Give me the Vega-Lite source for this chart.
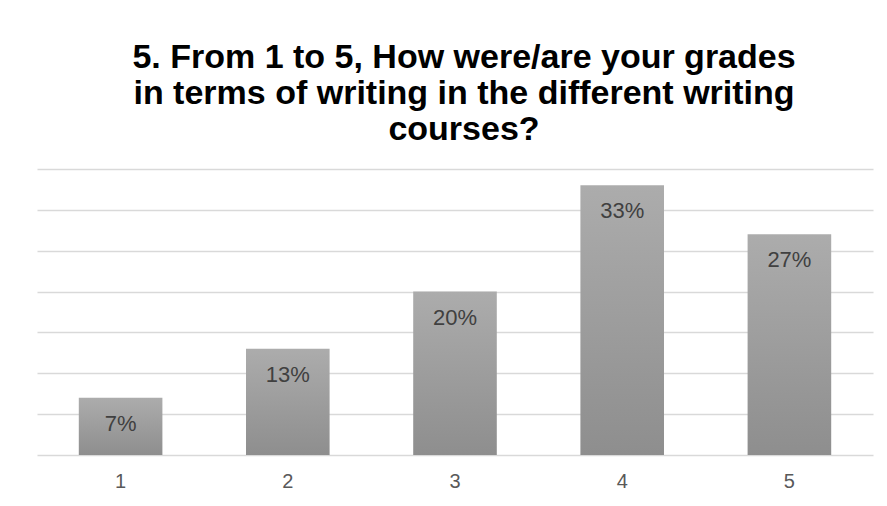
{
  "$schema": "https://vega.github.io/schema/vega-lite/v6.json",
  "autosize": "none",
  "width": 836,
  "height": 286,
  "padding": {"left": 37, "top": 169, "right": 14, "bottom": 51},
  "background": "white",
  "config": {
    "view": {"stroke": null},
    "font": "Liberation Sans"
  },
  "title": {
    "text": ["5. From 1 to 5, How were/are your grades", "in terms of writing in the different writing", "courses?"],
    "font": "Liberation Sans",
    "fontSize": 34,
    "fontWeight": "bold",
    "color": "#000000",
    "lineHeight": 36,
    "anchor": "middle",
    "dx": 9,
    "offset": 22
  },
  "data": {
    "values": [
      {"grade": "1", "share": 0.07},
      {"grade": "2", "share": 0.13},
      {"grade": "3", "share": 0.2},
      {"grade": "4", "share": 0.33},
      {"grade": "5", "share": 0.27}
    ]
  },
  "encoding": {
    "x": {
      "field": "grade",
      "type": "nominal",
      "sort": null,
      "scale": {"paddingInner": 0.5, "paddingOuter": 0.25},
      "axis": {
        "title": null,
        "labelAngle": 0,
        "domain": false,
        "ticks": false,
        "labelPadding": 16,
        "labelFontSize": 20,
        "labelColor": "#595959",
        "labelFont": "Liberation Sans"
      }
    },
    "y": {
      "field": "share",
      "type": "quantitative",
      "scale": {"domain": [0, 0.35], "nice": false},
      "axis": {
        "title": null,
        "values": [0, 0.05, 0.1, 0.15, 0.2, 0.25, 0.3, 0.35],
        "labels": false,
        "ticks": false,
        "domain": false,
        "grid": true,
        "gridColor": "#d9d9d9",
        "gridWidth": 1.5
      }
    }
  },
  "layer": [
    {
      "mark": {
        "type": "bar",
        "fill": {
          "gradient": "linear",
          "x1": 0, "y1": 0, "x2": 0, "y2": 1,
          "stops": [
            {"offset": 0, "color": "#acacac"},
            {"offset": 1, "color": "#8e8e8e"}
          ]
        }
      }
    },
    {
      "mark": {
        "type": "text",
        "baseline": "alphabetic",
        "dy": 33,
        "fontSize": 22,
        "color": "#404040",
        "font": "Liberation Sans"
      },
      "encoding": {
        "text": {"field": "share", "type": "quantitative", "format": ".0%"}
      }
    }
  ]
}
